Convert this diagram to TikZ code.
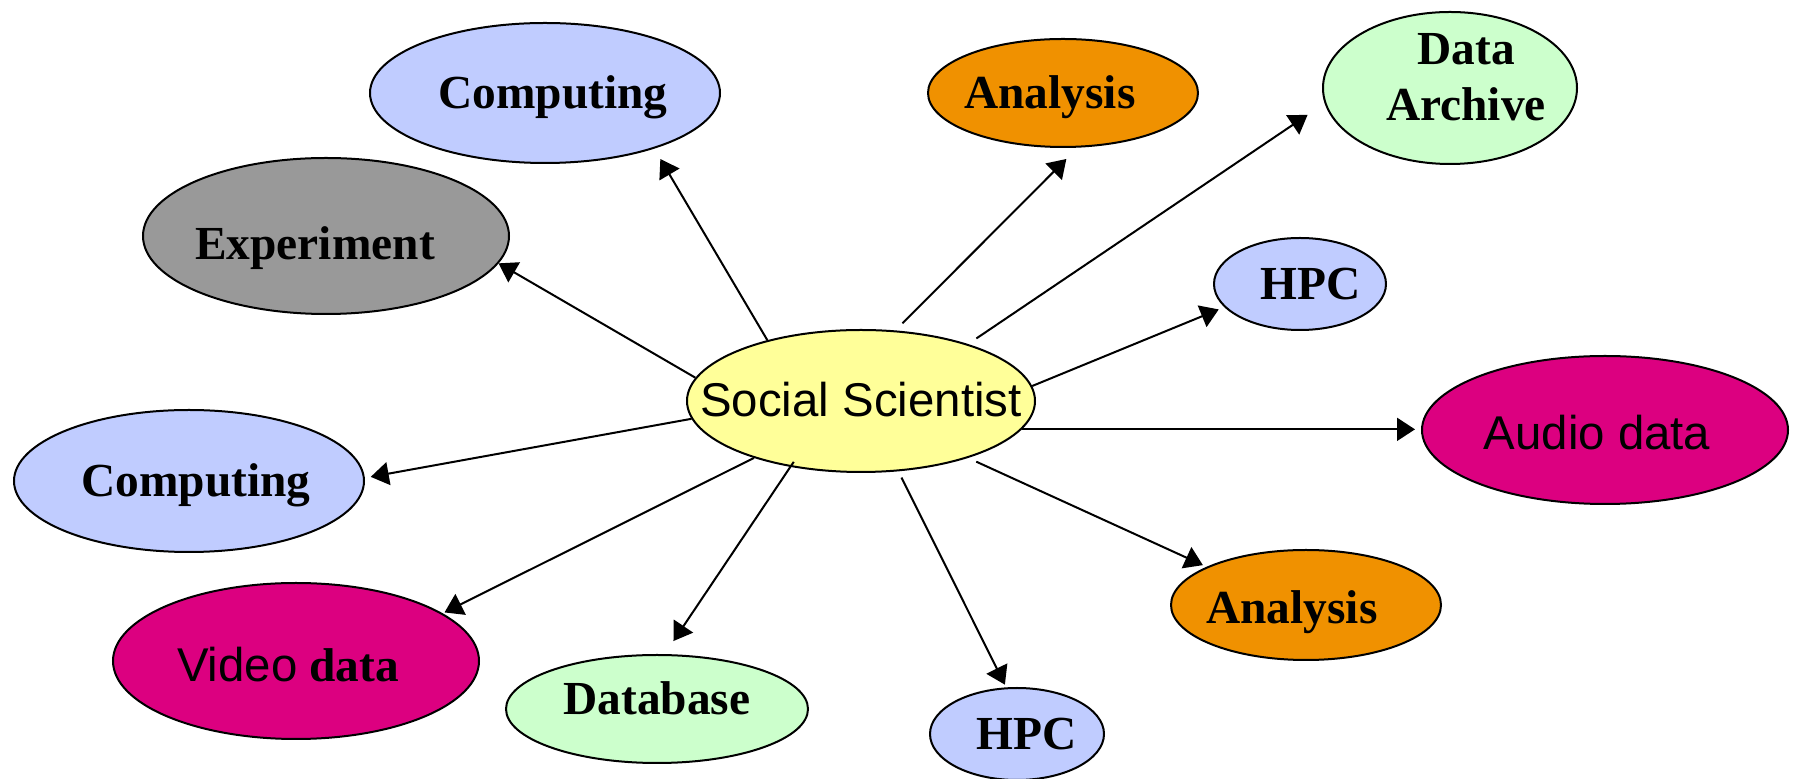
\documentclass[tikz,border=0pt]{standalone}
\usepackage{fontspec}
\setmainfont{Liberation Serif}
\newfontfamily\arialf{Liberation Sans}
\usetikzlibrary{arrows.meta,shapes.geometric}
\newcommand\tx[3]{\makebox[0pt]{\hspace*{#1}\raisebox{#2}{#3}}}
\definecolor{cblue}{RGB}{192,204,255}
\definecolor{cyel}{RGB}{255,255,153}
\definecolor{cgray}{RGB}{153,153,153}
\definecolor{corange}{RGB}{240,145,0}
\definecolor{cgreen}{RGB}{204,255,204}
\definecolor{cmag}{RGB}{220,0,128}
\begin{document}
\begin{tikzpicture}[x=0.5pt,y=-0.5pt,
  bub/.style={ellipse,draw=black,line width=1pt,inner sep=0pt,
    text height=20pt,text depth=4pt,
    font=\fontsize{23.7}{28}\selectfont\bfseries},
  sans/.style={font=\fontsize{23.7}{28}\selectfont\arialf},
  arr/.style={line width=1pt,-{Triangle[length=9pt,width=11.5pt]}}]
\useasboundingbox (0,0) rectangle (1795,779);

\node[bub,fill=cyel,sans,minimum width=174pt,minimum height=71pt] (ss) at (861,401) {\tx{0pt}{0pt}{Social Scientist}};
\node[bub,fill=cblue,minimum width=175pt,minimum height=70pt] (comp1) at (545,93) {\tx{8pt}{0pt}{Computing}};
\node[bub,fill=cgray,minimum width=183pt,minimum height=78pt] (exp) at (326,236) {\tx{-11pt}{-4pt}{Experiment}};
\node[bub,fill=corange,minimum width=135pt,minimum height=54pt] (ana1) at (1063,93) {\tx{-13pt}{0pt}{Analysis}};
\node[bub,fill=cgreen,minimum width=127pt,minimum height=76pt] (arch) at (1450,88) {\tx{16pt}{-8.5pt}{\begin{tabular}[b]{@{}c@{}}Data\\Archive\end{tabular}}};
\node[bub,fill=cblue,minimum width=86pt,minimum height=46pt] (hpc1) at (1300,284) {\tx{11pt}{0pt}{HPC}};
\node[bub,fill=cmag,sans,minimum width=183pt,minimum height=74pt] (audio) at (1605,430) {\tx{-8pt}{-2pt}{Audio data}};
\node[bub,fill=corange,minimum width=135pt,minimum height=55pt] (ana2) at (1306,605) {\tx{-14pt}{-1.5pt}{Analysis}};
\node[bub,fill=cblue,minimum width=87pt,minimum height=46pt] (hpc2) at (1017,734) {\tx{10pt}{0pt}{HPC}};
\node[bub,fill=cgreen,minimum width=151pt,minimum height=54pt] (db) at (657,709) {\tx{0pt}{5pt}{Database}};
\node[bub,fill=cmag,minimum width=183pt,minimum height=78pt] (video) at (296,661) {\tx{-8pt}{-2.5pt}{{\arialf\mdseries Video} data}};
\node[bub,fill=cblue,minimum width=175pt,minimum height=71pt] (comp2) at (189,481) {\tx{7pt}{0pt}{Computing}};

\draw[arr,shorten >=6pt] (ss.147.8) -- (comp1.-27.7);
\draw[arr] (ss.172.1) -- (exp.-9.85);
\draw[arr,shorten <=5pt,shorten >=8pt] (ss.64.8) -- (ana1.-75.5);
\draw[arr,shorten <=5pt,shorten >=10.25pt] (ss.28.1) -- (arch.-173.8);
\draw[arr,shorten >=3pt] (ss.5.4) -- (hpc1.-163.9);
\draw[arr,shorten >=3pt] (ss.-10.4) -- (ss.-10.4 -| audio.west);
\draw[arr,shorten <=4.5pt,shorten >=2pt] (ss.-28.2) -- (ana2.159.3);
\draw[arr,shorten <=3.5pt,shorten >=1.5pt] (ss.-62.8) -- (hpc2.103.8);
\draw[arr,shorten <=-3pt,shorten >=7.85pt] (ss.-137.7) -- (db.82.3);
\draw[arr,shorten >=1pt] (ss.-152) -- (video.18);
\draw[arr,shorten >=3pt] (ss.-174.7) -- (comp2.1.9);
\end{tikzpicture}
\end{document}
